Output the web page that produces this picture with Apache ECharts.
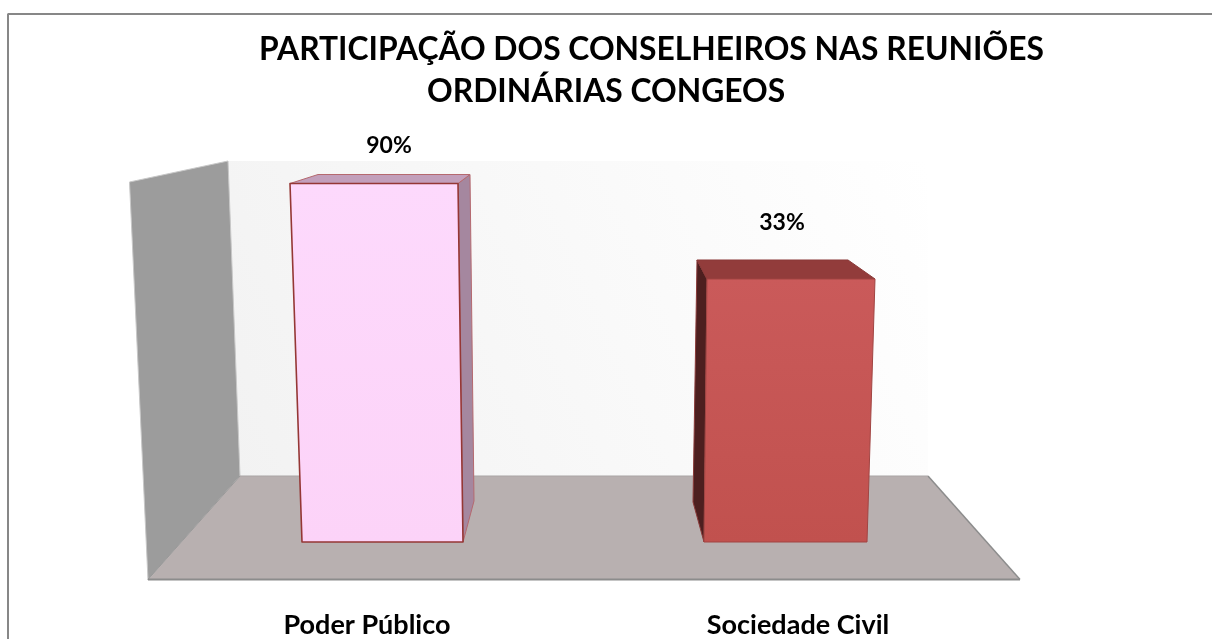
<!DOCTYPE html>
<html>
<head>
<meta charset="utf-8">
<style>
  html, body { margin: 0; padding: 0; background: #fff; }
  #chart { width: 1212px; height: 639px; }
</style>
</head>
<body>
<div id="chart"></div>
<script src="https://cdn.jsdelivr.net/npm/echarts@6/dist/echarts.min.js"></script>
<script>
const categories = ['Poder Público', 'Sociedade Civil'];
const participacao = [90, 33];
const titleLines = ['PARTICIPAÇÃO DOS CONSELHEIROS NAS REUNIÕES', 'ORDINÁRIAS CONGEOS'];

const FONT = 'Lato';

// offsets em px a partir do centro da categoria / topo / base (perspectiva do 3D original)
const barShapes = [
  {
    baseL: -65, baseR: 96, topL: -77, topR: 91,
    backL: -49, backR: 103, backDy: -9,
    sideX: 107, sideDy: -41, sideFrom: 'R',
    labelX: 22, labelDy: -37.5,
    front: ['#fdd9fc', '#fcd3f8'], topColor: '#c29fbb', side: '#a5879f',
    line: '#953735', lineW: 1.6, edge: '#b5696f'
  },
  {
    baseL: -94, baseR: 69, topL: -91, topR: 77,
    backL: -101, backR: 50, backDy: -19,
    sideX: -105, sideDy: -40, sideFrom: 'L',
    labelX: -16, labelDy: -56.5,
    front: ['#ca5a5a', '#c1514e'], topColor: '#923c3b', side: '#4d1f1f',
    line: '#a14543', lineW: 1, edge: '#8a3a39'
  }
];

function renderBar(params, api) {
  const s = barShapes[params.dataIndex];
  const top = api.coord([api.value(0), api.value(1)]);
  const base = api.coord([api.value(0), -124]);
  const c = top[0], yT = top[1], yB = base[1];
  const fL = [c + s.topL, yT], fR = [c + s.topR, yT];
  const bL = [c + s.baseL, yB], bR = [c + s.baseR, yB];
  const backL = [c + s.backL, yT + s.backDy], backR = [c + s.backR, yT + s.backDy];
  const sideLow = [c + s.sideX, yB + s.sideDy];
  const sidePts = s.sideFrom === 'R'
    ? [fR, backR, sideLow, bR]
    : [fL, backL, sideLow, bL];
  const poly = (points, fill, stroke, w) => ({
    type: 'polygon',
    shape: { points: points },
    style: { fill: fill, stroke: stroke, lineWidth: w, lineJoin: 'round' }
  });
  return {
    type: 'group',
    children: [
      poly(sidePts, s.side, s.edge, 1),
      poly([backL, backR, fR, fL], s.topColor, s.edge, 1),
      poly([fL, fR, bR, bL], {
        type: 'linear', x: 0, y: 0, x2: 0, y2: 1,
        colorStops: [{ offset: 0, color: s.front[0] }, { offset: 1, color: s.front[1] }]
      }, s.line, s.lineW),
      {
        type: 'text',
        style: {
          text: api.value(1) + '%',
          x: c + s.labelX,
          y: yT + s.labelDy,
          align: 'center',
          verticalAlign: 'middle',
          fill: '#000',
          font: 'bold 23px ' + FONT
        }
      }
    ]
  };
}

const chart = echarts.init(document.getElementById('chart'));
chart.setOption({
  backgroundColor: '#fff',
  animation: false,
  title: [
    { text: titleLines[0], left: 254, top: 29, textStyle: { fontFamily: FONT, fontWeight: 'bold', fontSize: 31.8, color: '#000' } },
    { text: titleLines[1], left: 422, top: 71, textStyle: { fontFamily: FONT, fontWeight: 'bold', fontSize: 31.8, color: '#000' } }
  ],
  grid: { left: 151.5, width: 862, top: 183.5, height: 360 },
  xAxis: {
    type: 'category',
    data: categories,
    axisLine: { show: false },
    axisTick: { show: false },
    axisLabel: { margin: 70, color: '#000', fontFamily: FONT, fontWeight: 'bold', fontSize: 27 }
  },
  yAxis: { type: 'value', min: -124, max: 90, show: false },
  graphic: [
    // moldura
    { type: 'line', shape: { x1: 7.5, y1: 14, x2: 1212, y2: 14 }, style: { stroke: '#878787', lineWidth: 2 } },
    { type: 'line', shape: { x1: 8, y1: 14, x2: 8, y2: 639 }, style: { stroke: '#878787', lineWidth: 2 } },
    // parede do fundo
    {
      type: 'polygon',
      shape: { points: [[228, 161], [928, 161], [928, 476], [240, 476]] },
      style: {
        fill: {
          type: 'linear', x: 0, y: 1, x2: 1, y2: 0,
          colorStops: [{ offset: 0, color: '#f2f2f2' }, { offset: 1, color: '#ffffff' }]
        }
      }
    },
    // parede esquerda
    {
      type: 'polygon',
      shape: { points: [[129.5, 182], [228, 161], [240, 476], [148, 580]] },
      style: { fill: '#9c9c9c', stroke: '#c8c8c8', lineWidth: 1 }
    },
    // piso
    {
      type: 'polygon',
      shape: { points: [[240, 476], [928, 476], [1020, 580], [148, 580]] },
      style: { fill: '#b8b0b0' }
    },
    { type: 'polyline', shape: { points: [[240, 476], [148, 579.5]] }, style: { stroke: '#999', lineWidth: 1, fill: null } },
    { type: 'polyline', shape: { points: [[928, 476], [1020, 579.5]] }, style: { stroke: '#8c8c8c', lineWidth: 1.5, fill: null } },
    { type: 'line', shape: { x1: 148, y1: 579.5, x2: 1020, y2: 579.5 }, style: { stroke: '#8c8c8c', lineWidth: 2 } },
    { type: 'line', shape: { x1: 240, y1: 476, x2: 928, y2: 476 }, style: { stroke: '#a9a4a4', lineWidth: 1 } }
  ],
  series: [
    {
      type: 'custom',
      renderItem: renderBar,
      encode: { x: 0, y: 1 },
      data: categories.map((c, i) => [i, participacao[i]]),
      clip: false,
      z: 5
    }
  ]
});
</script>
</body>
</html>
